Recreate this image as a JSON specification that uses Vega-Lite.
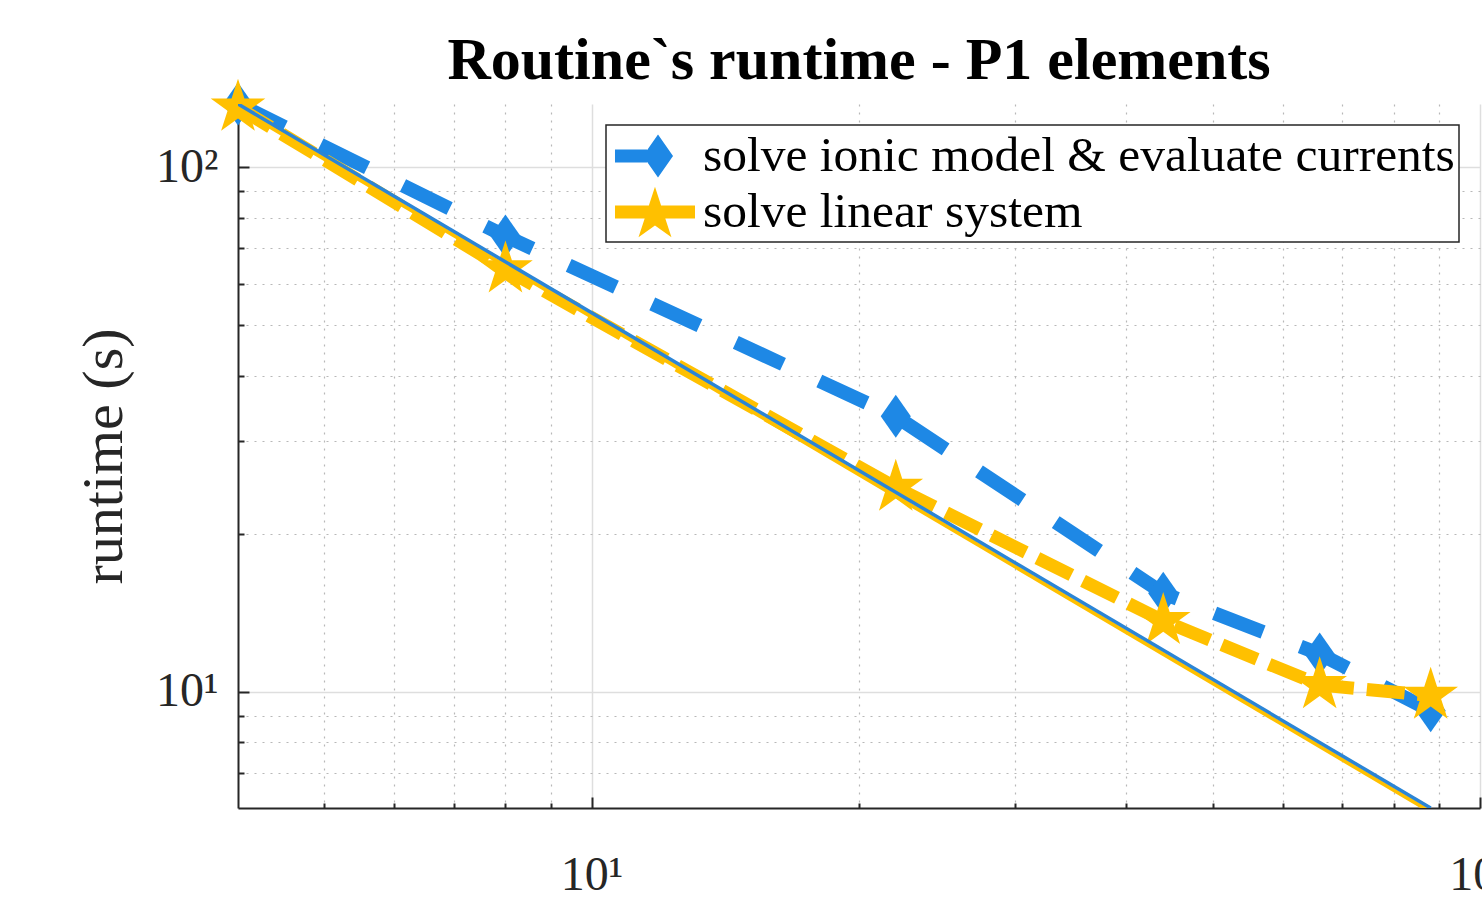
{
  "$schema": "https://vega.github.io/schema/vega-lite/v6.json",
  "width": 1242,
  "height": 704,
  "autosize": {"type": "none"},
  "padding": {"left": 238, "top": 104, "right": 2, "bottom": 89},
  "background": "white",
  "title": {"text": "Routine`s runtime - P1 elements", "font": "Liberation Serif", "fontSize": 60, "fontWeight": "bold", "anchor": "middle", "offset": -60, "baseline": "alphabetic", "color": "black"},
  "config": {
    "view": {"stroke": null},
    "font": "Liberation Serif",
    "axis": {"labelFont": "Liberation Serif", "titleFont": "Liberation Serif", "labelColor": "#262626", "titleColor": "#262626", "domainColor": "#262626", "domainWidth": 2, "tickColor": "#262626", "tickWidth": 2, "labelOverlap": false, "labelFlush": false, "labelLimit": 500}
  },
  "datasets": {
    "runs": [
      {"series": "solve ionic model & evaluate currents", "procs": 4, "runtime": 132},
      {"series": "solve ionic model & evaluate currents", "procs": 8, "runtime": 73.9},
      {"series": "solve ionic model & evaluate currents", "procs": 22, "runtime": 33.5},
      {"series": "solve ionic model & evaluate currents", "procs": 44, "runtime": 15.4},
      {"series": "solve ionic model & evaluate currents", "procs": 66, "runtime": 11.8},
      {"series": "solve ionic model & evaluate currents", "procs": 88, "runtime": 9.2},
      {"series": "solve linear system", "procs": 4, "runtime": 130},
      {"series": "solve linear system", "procs": 8, "runtime": 63.9},
      {"series": "solve linear system", "procs": 22, "runtime": 24.5},
      {"series": "solve linear system", "procs": 44, "runtime": 13.65},
      {"series": "solve linear system", "procs": 66, "runtime": 10.3},
      {"series": "solve linear system", "procs": 88, "runtime": 9.83}
    ],
    "ideal": [
      {"series": "solve ionic model & evaluate currents", "procs": 4, "runtime": 132},
      {"series": "solve ionic model & evaluate currents", "procs": 88, "runtime": 6.0},
      {"series": "solve linear system", "procs": 4, "runtime": 129.7},
      {"series": "solve linear system", "procs": 88, "runtime": 5.9}
    ]
  },
  "encoding": {
    "x": {"field": "procs", "type": "quantitative", "scale": {"type": "log", "domain": [4, 100], "nice": false},
      "axis": {"title": null, "values": [5, 6, 7, 8, 9, 10, 20, 30, 40, 50, 60, 70, 80, 90, 100],
        "labelExpr": "datum.value == 10 ? '10¹' : (datum.value == 100 ? '10²' : '')",
        "labelFontSize": 48, "labelPadding": 54, "labelBaseline": "top",
        "grid": true,
        "gridDash": {"condition": {"test": "datum.value == 10 || datum.value == 100", "value": []}, "value": [2, 6]},
        "gridColor": {"condition": {"test": "datum.value == 10 || datum.value == 100", "value": "#dedede"}, "value": "#b8b8b8"},
        "gridWidth": {"condition": {"test": "datum.value == 10 || datum.value == 100", "value": 1.5}, "value": 1.2},
        "tickSize": {"condition": {"test": "datum.value == 10 || datum.value == 100", "value": -11}, "value": -5}}},
    "y": {"field": "runtime", "type": "quantitative", "scale": {"type": "log", "domain": [6, 132], "nice": false},
      "axis": {"title": "runtime (s)", "titleFontSize": 58, "titleFontWeight": "normal", "titlePadding": 22, "values": [7, 8, 9, 10, 20, 30, 40, 50, 60, 70, 80, 90, 100],
        "labelExpr": "datum.value == 10 ? '10¹' : (datum.value == 100 ? '10²' : '')",
        "labelFontSize": 48, "labelPadding": 31,
        "grid": true,
        "gridDash": {"condition": {"test": "datum.value == 10 || datum.value == 100", "value": []}, "value": [2, 6]},
        "gridColor": {"condition": {"test": "datum.value == 10 || datum.value == 100", "value": "#dedede"}, "value": "#b8b8b8"},
        "gridWidth": {"condition": {"test": "datum.value == 10 || datum.value == 100", "value": 1.5}, "value": 1.2},
        "tickSize": {"condition": {"test": "datum.value == 10 || datum.value == 100", "value": -11}, "value": -6}}}
  },
  "layer": [
    {
      "data": {"name": "runs"},
      "transform": [{"filter": "datum.series == 'solve ionic model & evaluate currents'"}],
      "mark": {"type": "line", "color": "#1e88e5", "strokeWidth": 14, "strokeDash": [52, 40], "clip": true}
    },
    {
      "data": {"name": "runs"},
      "transform": [{"filter": "datum.series == 'solve ionic model & evaluate currents'"}],
      "mark": {"type": "point", "filled": true, "opacity": 1, "color": "#1e88e5", "size": 1850, "shape": "M0,-1 L0.7,0 L0,1 L-0.7,0 Z", "strokeWidth": 0, "clip": false}
    },
    {
      "data": {"name": "runs"},
      "transform": [{"filter": "datum.series == 'solve linear system'"}],
      "mark": {"type": "line", "color": "#ffc000", "strokeWidth": 13, "strokeDash": [38, 13], "clip": true}
    },
    {
      "data": {"name": "runs"},
      "transform": [{"filter": "datum.series == 'solve linear system'"}],
      "mark": {"type": "point", "filled": true, "opacity": 1, "color": "#ffc000", "size": 3300, "strokeWidth": 0, "clip": false,
        "shape": "M0,-1 L0.2245,-0.309 L0.951,-0.309 L0.363,0.118 L0.588,0.809 L0,0.382 L-0.588,0.809 L-0.363,0.118 L-0.951,-0.309 L-0.2245,-0.309 Z"}
    },
    {
      "data": {"name": "runs"},
      "transform": [{"filter": "datum.procs < 0"}],
      "mark": {"type": "point", "filled": true, "opacity": 1, "size": 2916, "strokeWidth": 0},
      "encoding": {
        "color": {"field": "series", "type": "nominal",
          "scale": {"domain": ["solve ionic model & evaluate currents", "solve linear system"], "range": ["#1e88e5", "#ffc000"]},
          "legend": {"title": null, "orient": "top-right", "offset": 21, "labelFontSize": 49.5, "labelFont": "Liberation Serif", "labelColor": "black", "labelLimit": 2000, "labelOffset": 39,
            "symbolSize": 2916, "symbolStrokeWidth": 0, "symbolOpacity": 1, "rowPadding": 4, "padding": 4,
            "strokeColor": "#262626", "fillColor": "white",
            "encode": {"legend": {"update": {"strokeWidth": {"value": 1.5}}}}}},
        "shape": {"field": "series", "type": "nominal",
          "scale": {"domain": ["solve ionic model & evaluate currents", "solve linear system"],
            "range": ["M-0.815,-0.24 L0.37,-0.24 L0.37,0.24 L-0.815,0.24 Z M0.778,-0.8 L1.334,0 L0.778,0.8 L0.222,0 Z",
                      "M-0.815,-0.24 L2.148,-0.24 L2.148,0.24 L-0.815,0.24 Z M0.666,-0.937 L0.899,-0.22 L1.652,-0.22 L1.042,0.222 L1.276,0.939 L0.666,0.496 L0.056,0.939 L0.29,0.222 L-0.32,-0.22 L0.433,-0.22 Z"]},
          "legend": {"title": null, "orient": "top-right", "offset": 21, "labelFontSize": 49.5, "labelFont": "Liberation Serif", "labelColor": "black", "labelLimit": 2000, "labelOffset": 39,
            "symbolSize": 2916, "symbolStrokeWidth": 0, "symbolOpacity": 1, "rowPadding": 4, "padding": 4,
            "strokeColor": "#262626", "fillColor": "white"}}
      }
    },
    {
      "data": {"name": "ideal"},
      "transform": [{"filter": "datum.series == 'solve linear system'"}],
      "mark": {"type": "line", "color": "#ffc000", "strokeWidth": 4, "clip": true}
    },
    {
      "data": {"name": "ideal"},
      "transform": [{"filter": "datum.series == 'solve ionic model & evaluate currents'"}],
      "mark": {"type": "line", "color": "#2b85d6", "strokeWidth": 3.5, "clip": true}
    },
    {
      "mark": {"type": "rule", "color": "#262626", "strokeWidth": 2},
      "encoding": {"x": {"datum": 100, "type": "quantitative"}, "y": null}
    }
  ]
}
